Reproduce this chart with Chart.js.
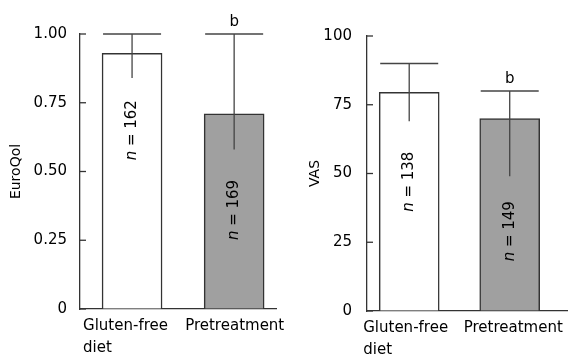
<!DOCTYPE html>
<html><head><meta charset="utf-8">
<script src="https://cdn.jsdelivr.net/npm/chart.js@4/dist/chart.umd.min.js"></script>
<style>
html,body{margin:0;padding:0;background:#fff;}
#wrap{position:relative;width:574px;height:360px;overflow:hidden;background:#fff;}
canvas{position:absolute;top:0;}
</style></head><body>
<div id="wrap">
<canvas id="c1" width="300" height="360" style="left:0"></canvas>
<canvas id="c2" width="287" height="360" style="left:287px"></canvas>
</div>
<script>
// ---- data ----
const categories = [['Gluten-free', 'diet'], ['Pretreatment']];
const euroqolMean  = [0.93, 0.71];
const euroqolUpper = [1.00, 1.00];
const euroqolLower = [0.84, 0.58];
const euroqolN     = ['162', '169'];
const euroqolNAt   = [0.65, 0.36];
const euroqolTicks = [0, 0.25, 0.50, 0.75, 1.00];
const vasMean  = [79.5, 70];
const vasUpper = [90, 80];
const vasLower = [69, 49];
const vasN     = ['138', '149'];
const vasNAt   = [47, 29];
const vasTicks = [0, 25, 50, 75, 100];
const sigMarks = ['', 'b'];

const FONT = 'DejaVu Sans';
Chart.defaults.font.family = FONT;
Chart.defaults.color = '#000';

const annot = {
  id: 'annot',
  afterDatasetsDraw(chart, args, o) {
    const ctx = chart.ctx, ys = chart.scales.y, ca = chart.chartArea;
    const meta = chart.getDatasetMeta(0);
    ctx.save();
    // inward tick marks on y axis
    ctx.strokeStyle = '#333'; ctx.lineWidth = 1.3;
    ys.ticks.forEach(t => {
      const py = ys.getPixelForValue(t.value);
      ctx.beginPath(); ctx.moveTo(ca.left, py); ctx.lineTo(ca.left + 6, py); ctx.stroke();
    });
    // error bars
    ctx.strokeStyle = '#444'; ctx.lineWidth = 1.3;
    meta.data.forEach((bar, i) => {
      const x = bar.x;
      const yH = ys.getPixelForValue(o.upper[i]);
      const yL = ys.getPixelForValue(o.lower[i]);
      ctx.beginPath(); ctx.moveTo(x, yH); ctx.lineTo(x, yL); ctx.stroke();
      ctx.beginPath(); ctx.moveTo(x - 29, yH); ctx.lineTo(x + 29, yH); ctx.stroke();
      // significance mark
      if (o.marks[i]) {
        ctx.fillStyle = '#000'; ctx.font = '15px ' + FONT;
        ctx.textAlign = 'center'; ctx.textBaseline = 'alphabetic';
        ctx.fillText(o.marks[i], x, yH - 8);
      }
      // rotated n label
      const yc = ys.getPixelForValue(o.nAt[i]);
      ctx.save();
      ctx.translate(x, yc); ctx.rotate(-Math.PI / 2);
      ctx.fillStyle = '#000'; ctx.textBaseline = 'middle'; ctx.textAlign = 'left';
      ctx.font = 'italic 15px ' + FONT;
      const w1 = ctx.measureText('n').width;
      ctx.font = '15px ' + FONT;
      const rest = ' = ' + o.n[i];
      const w2 = ctx.measureText(rest).width;
      const x0 = -(w1 + w2) / 2;
      ctx.font = 'italic 15px ' + FONT;
      ctx.fillText('n', x0, 0);
      ctx.font = '15px ' + FONT;
      ctx.fillText(rest, x0 + w1, 0);
      ctx.restore();
    });
    ctx.restore();
  }
};

function makeChart(id, cfg) {
  return new Chart(document.getElementById(id), {
    type: 'bar',
    data: {
      datasets: [{
        data: cfg.mean.map((v, i) => ({ x: i, y: v })),
        backgroundColor: ['#ffffff', '#a0a0a0'],
        borderColor: '#333',
        borderWidth: 1.5,
        barThickness: 60
      }]
    },
    options: {
      responsive: false,
      animation: false,
      layout: { padding: cfg.pad },
      plugins: {
        legend: { display: false }, tooltip: { enabled: false },
        annot: { upper: cfg.upper, lower: cfg.lower, n: cfg.n, nAt: cfg.nAt, marks: sigMarks }
      },
      scales: {
        x: {
          type: 'linear', min: cfg.xmin, max: cfg.xmax, offset: false,
          grid: { display: true, drawOnChartArea: false, drawTicks: false, offset: false },
          border: { display: true, color: '#333', width: 1.3 },
          afterBuildTicks: s => { s.ticks = categories.map((c, i) => ({ value: i })); },
          afterFit: s => { s.height = cfg.xh; s.paddingLeft = 0; s.paddingRight = 0; },
          ticks: {
            align: 'start', labelOffset: cfg.labelOffset, padding: 6, autoSkip: false, maxRotation: 0,
            font: { size: 15, lineHeight: 1.47 }, color: '#000',
            callback: (v, i) => categories[i]
          }
        },
        y: {
          min: 0, max: cfg.ticks[cfg.ticks.length - 1],
          grid: { display: true, drawOnChartArea: false, drawTicks: false },
          border: { display: true, color: '#333', width: 1.3 },
          afterBuildTicks: s => { s.ticks = cfg.ticks.map(v => ({ value: v })); },
          afterFit: s => { s.width = cfg.yw; },
          ticks: {
            padding: cfg.tickPad, font: { size: 15 }, color: '#000',
            callback: cfg.fmt
          },
          title: { display: true, text: cfg.title, font: { size: 14 }, color: '#000', padding: { top: 0, bottom: 0 } }
        }
      }
    },
    plugins: [annot]
  });
}

makeChart('c1', {
  mean: euroqolMean, upper: euroqolUpper, lower: euroqolLower, n: euroqolN, nAt: euroqolNAt,
  ticks: euroqolTicks, fmt: v => (v === 0 ? '0' : v.toFixed(2)), title: 'EuroQol',
  pad: { left: 8, right: 24, top: 34, bottom: 0 }, yw: 72, tickPad: 13, xh: 51,
  xmin: -0.51, xmax: 1.41, labelOffset: -49
});
makeChart('c2', {
  mean: vasMean, upper: vasUpper, lower: vasLower, n: vasN, nAt: vasNAt,
  ticks: vasTicks, fmt: v => String(v), title: 'VAS',
  pad: { left: 20, right: 7, top: 36, bottom: 0 }, yw: 60, tickPad: 15, xh: 49,
  xmin: -0.42, xmax: 1.57, labelOffset: -46
});
</script>
</body></html>
